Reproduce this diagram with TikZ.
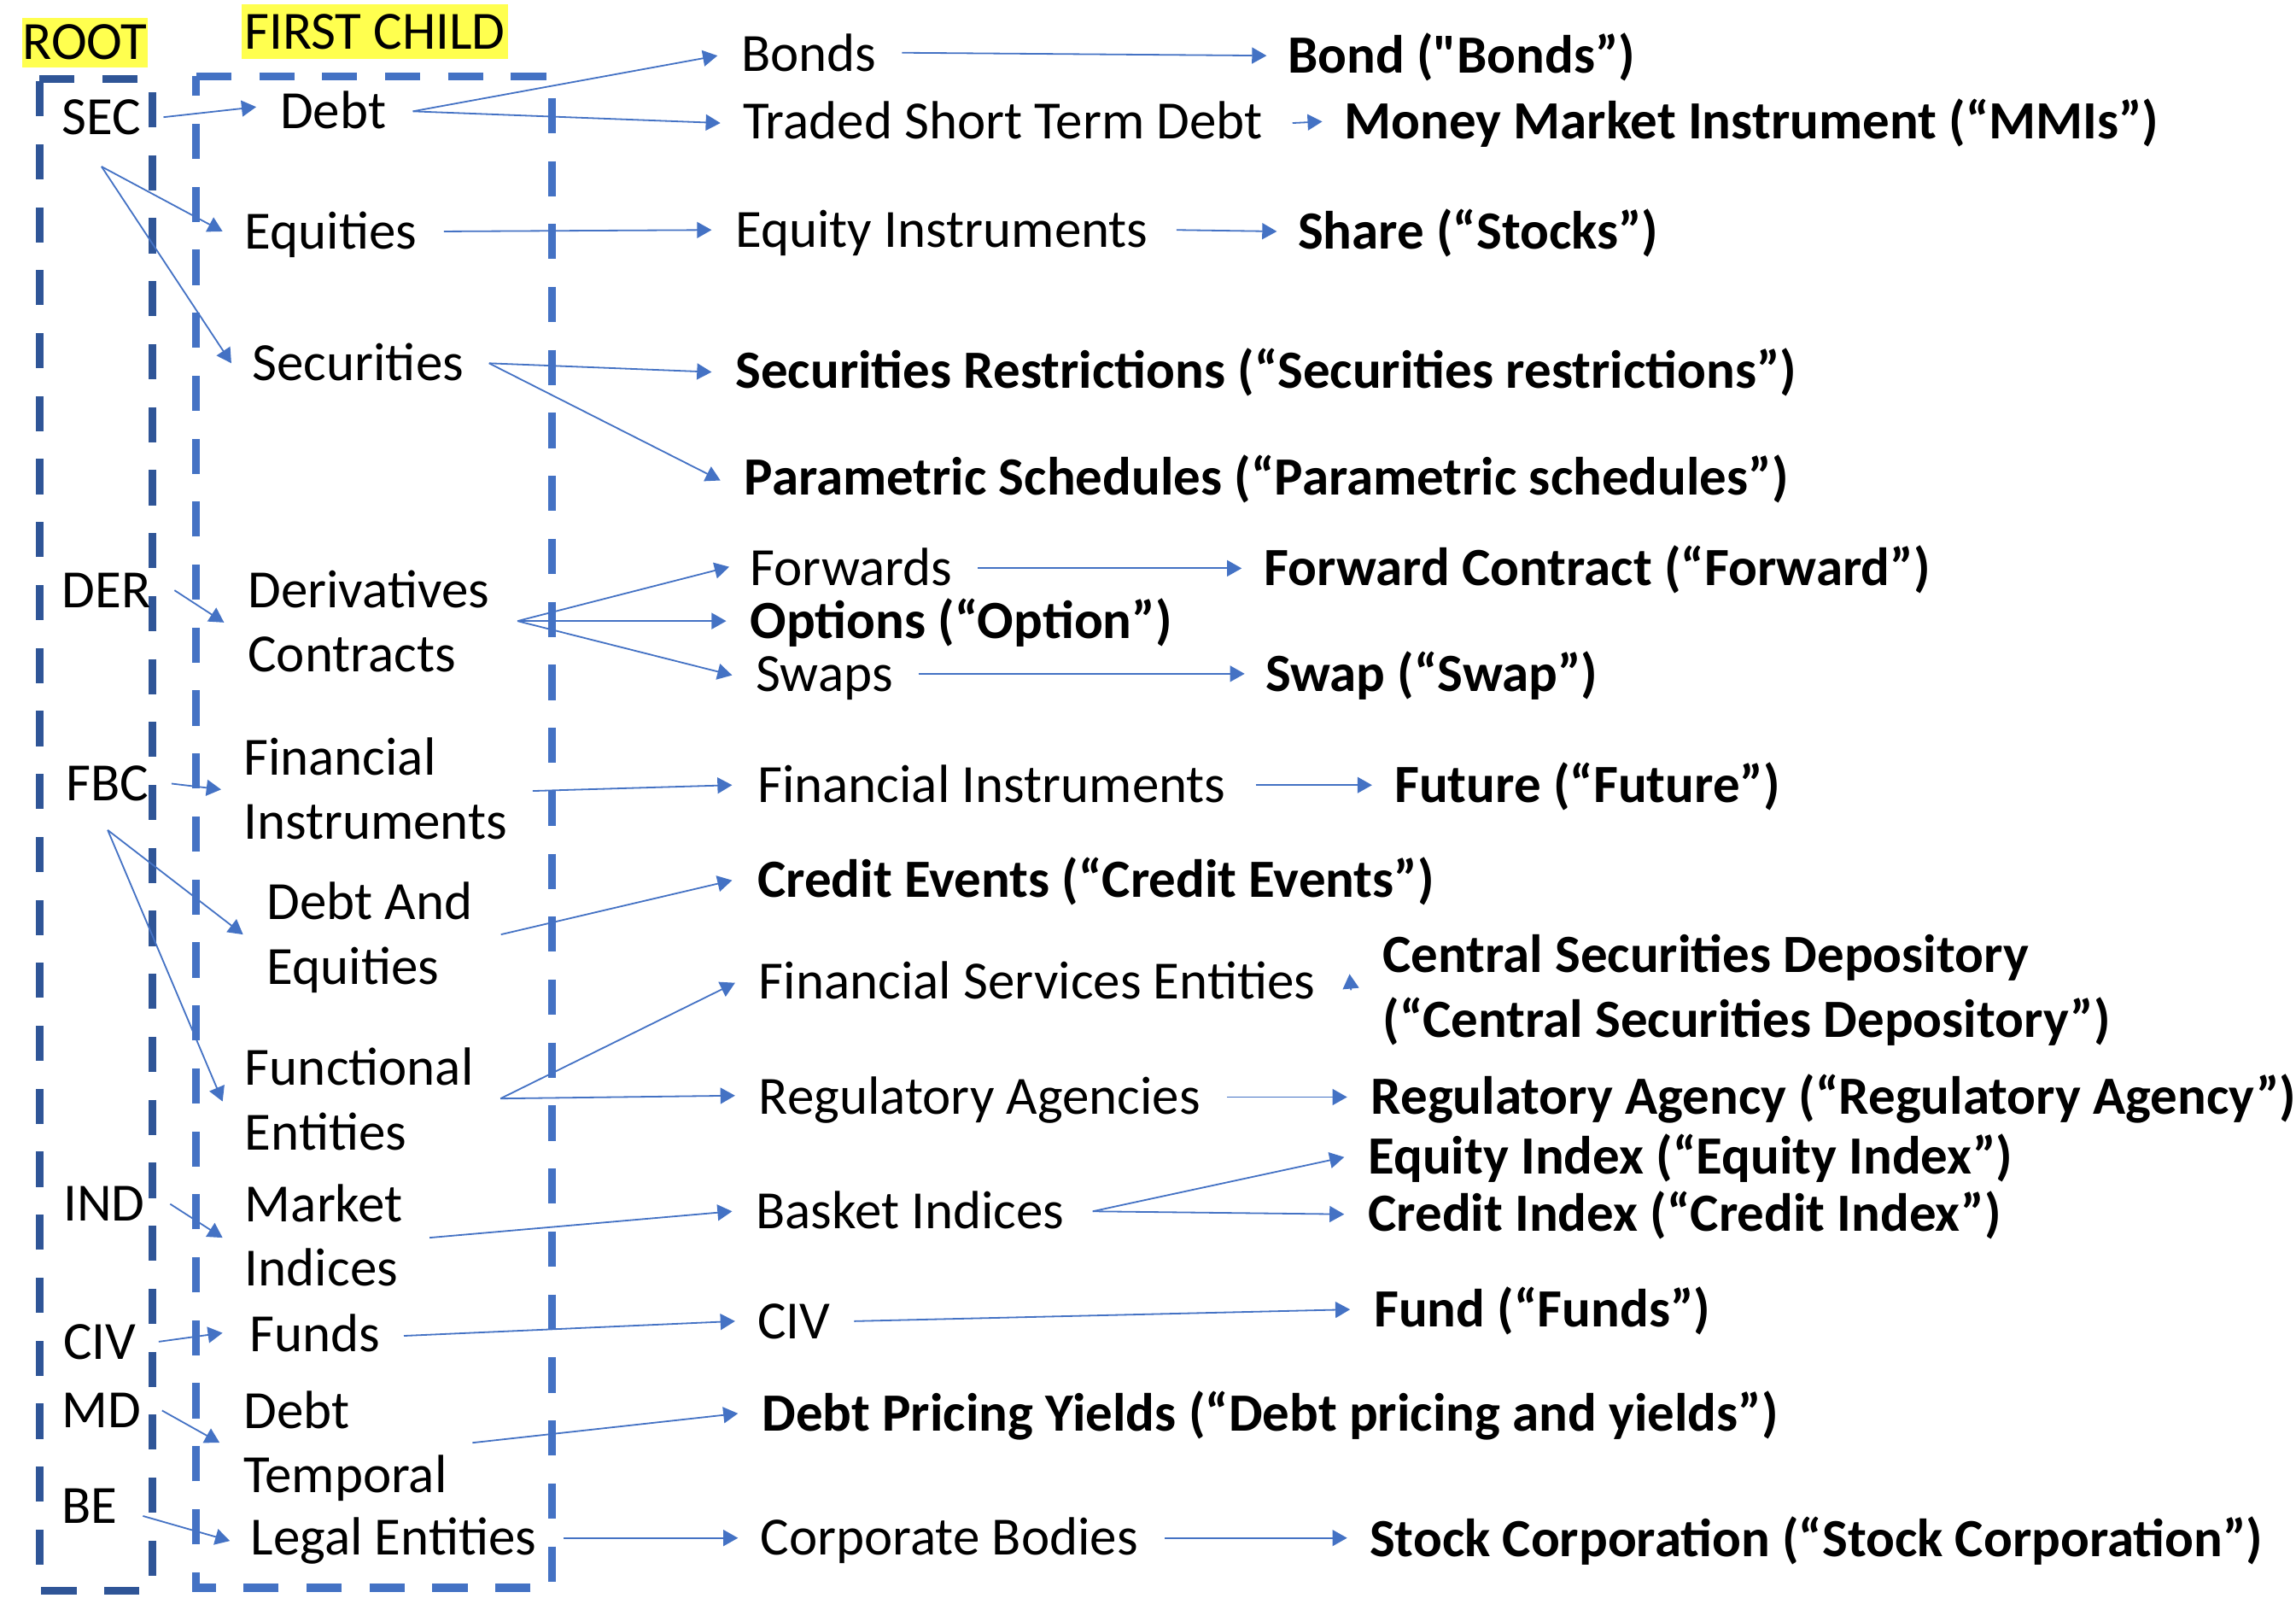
\documentclass[tikz,border=0pt]{standalone}
\usepackage{fontspec}
\setmainfont{Carlito}
\usetikzlibrary{arrows.meta,calc}
\definecolor{arrblue}{HTML}{4472C4}
\definecolor{rootblue}{HTML}{2F5597}
\definecolor{hlyellow}{HTML}{FFFF4F}
\newcommand\topstrut{\rule{0pt}{20pt}}
\newcommand\botstrut{\rule[-6.6pt]{0pt}{6.6pt}}
\newcommand\straightquote{{\addfontfeatures{Ligatures=TeXOff}"}}
\begin{document}
\begin{tikzpicture}[x=0.02cm,y=-0.02cm,
  every node/.style={font=\fontsize{20.9pt}{25pt}\selectfont},
  lbl/.style={anchor=west, inner sep=0pt, align=left,
    execute at begin node=\topstrut, execute at end node=\botstrut},
  blbl/.style={lbl, font=\fontsize{20.9pt}{25pt}\selectfont\bfseries},
  hdr/.style={fill=hlyellow, inner sep=0pt},
  arr/.style={arrblue, line width=0.6pt, -{Triangle[length=0.2cm,width=0.22cm]}},
  rootbox/.style={rootblue, line width=3pt, dash pattern=on 0.48cm off 0.38cm},
  childbox/.style={arrblue, line width=3pt, dash pattern=on 0.48cm off 0.38cm}
]
\useasboundingbox (0,0) rectangle (1568,1095);

% headers
\node[hdr, minimum width=1.72cm, minimum height=0.68cm] (roothdr) at (58,29) {ROOT};
\node[hdr, minimum width=3.64cm, minimum height=0.74cm] (childhdr) at (256,21.5) {FIRST CHILD};

% dashed boxes
\draw[rootbox] (27,54) -- (104,54) -- (104,1086) -- (27,1086) -- cycle;
\draw[childbox] (134,52) -- (377,52) -- (377,1084) -- (134,1084) -- cycle;

% root column
\node[lbl] (sec) at (42,80) {SEC};
\node[lbl] (der) at (42,403) {DER};
\node[lbl] (fbc) at (45,535) {FBC};
\node[lbl] (ind) at (43,822) {IND};
\node[lbl] (civ) at (43,916) {CIV};
\node[lbl] (md) at (42,963) {MD};
\node[lbl] (be) at (42,1028) {BE};

% first child column
\node[lbl] (debt) at (191,76) {Debt};
\node[lbl] (equities) at (167,158) {Equities};
\node[lbl] (securities) at (172,248) {Securities};
\node[lbl] (deriv) at (169,430) {Derivatives\\Contracts};
\node[lbl] (fin) at (166,544) {Financial\\Instruments};
\node[lbl] (debtand) at (182,643) {Debt And\\Equities};
\node[lbl] (func) at (167,756) {Functional\\Entities};
\node[lbl] (market) at (167,849) {Market\\Indices};
\node[lbl] (funds) at (170,911) {Funds};
\node[lbl] (dt) at (166,990) {Debt\\Temporal};
\node[lbl] (legal) at (171,1050) {Legal Entities};

% third column
\node[lbl] (bonds) at (506,37) {Bonds};
\node[lbl] (traded) at (507,83) {Traded Short Term Debt};
\node[lbl] (eqinst) at (502,157) {Equity Instruments};
\node[blbl] (secrestr) at (502,253) {Securities Restrictions (“Securities restrictions”)};
\node[blbl] (param) at (508,326) {Parametric Schedules (“Parametric schedules”)};
\node[lbl] (fwd) at (512,388) {Forwards};
\node[blbl] (options) at (512,424) {Options (“Option”)};
\node[lbl] (swaps) at (516,460) {Swaps};
\node[lbl] (fininst) at (517,536) {Financial Instruments};
\node[blbl] (credev) at (517,601) {Credit Events (“Credit Events”)};
\node[lbl] (fse) at (518,670) {Financial Services Entities};
\node[lbl] (reg) at (518,749) {Regulatory Agencies};
\node[lbl] (basket) at (516,827) {Basket Indices};
\node[lbl] (civ3) at (517,902) {CIV};
\node[blbl] (dpy) at (520,965) {Debt Pricing Yields (“Debt pricing and yields”)};
\node[lbl] (corp) at (519,1050) {Corporate Bodies};

% fourth column
\node[blbl] (bond) at (879,38) {Bond (\straightquote Bonds”)};
\node[blbl] (mmi) at (918,83) {Money Market Instrument (“MMIs”)};
\node[blbl] (share) at (886,158) {Share (“Stocks”)};
\node[blbl] (fwdc) at (863,388) {Forward Contract (“Forward”)};
\node[blbl] (swap) at (864,460) {Swap (“Swap”)};
\node[blbl] (future) at (952,536) {Future (“Future”)};
\node[blbl] (csd) at (944,679) {Central Securities Depository\\(“Central Securities Depository”)};
\node[blbl] (regag) at (936,749) {Regulatory Agency (“Regulatory Agency”)};
\node[blbl] (eqidx) at (934,790) {Equity Index (“Equity Index”)};
\node[blbl] (credidx) at (934,829) {Credit Index (“Credit Index”)};
\node[blbl] (fund) at (938,894) {Fund (“Funds”)};
\node[blbl] (stock) at (935,1051) {Stock Corporation (“Stock Corporation”)};

% root -> first child
\draw[arr] ($(sec.east)+(15,0)$) -- ($(debt.west)+(-16,-3)$);
\draw[arr] ($(sec.south)+(0,10)$) -- ($(equities.west)+(-15,0)$);
\draw[arr] ($(sec.south)+(0,10)$) -- ($(securities.west)+(-14,0)$);
\draw[arr] ($(der.east)+(16,0)$) -- ($(deriv.west)+(-16,-5)$);
\draw[arr] ($(fbc.east)+(15,0)$) -- ($(fin.west)+(-15,-5)$);
\draw[arr] ($(fbc.south)+(0,8)$) -- ($(debtand.west)+(-16,-5)$);
\draw[arr] ($(fbc.south)+(0,8)$) -- ($(func.west)+(-15,-4)$);
\draw[arr] ($(ind.east)+(17,0)$) -- ($(market.west)+(-15,-4)$);
\draw[arr] ($(civ.east)+(15,0)$) -- ($(funds.west)+(-18,-1)$);
\draw[arr] ($(md.east)+(14,0)$) -- ($(dt.west)+(-16,-5)$);
\draw[arr] ($(be.east)+(17,7)$) -- ($(legal.west)+(-14,2)$);

% first child -> third column
\draw[arr] ($(debt.east)+(18,0)$) -- ($(bonds.west)+(-16,1)$);
\draw[arr] ($(debt.east)+(18,0)$) -- ($(traded.west)+(-15,1)$);
\draw[arr] ($(equities.east)+(18,0)$) -- ($(eqinst.west)+(-16,0)$);
\draw[arr] ($(securities.east)+(17,0)$) -- ($(secrestr.west)+(-16,1)$);
\draw[arr] ($(securities.east)+(17,0)$) -- ($(param.west)+(-16,2)$);
\draw[arr] ($(deriv.east)+(19,-6)$) -- ($(fwd.west)+(-14,-1)$);
\draw[arr] ($(deriv.east)+(19,-6)$) -- ($(options.west)+(-16,0)$);
\draw[arr] ($(deriv.east)+(19,-6)$) -- ($(swaps.west)+(-16,1)$);
\draw[arr] ($(fin.east)+(17,-4)$) -- ($(fininst.west)+(-17,0)$);
\draw[arr] ($(debtand.east)+(19,-5)$) -- ($(credev.west)+(-17,0)$);
\draw[arr] ($(func.east)+(18,-6)$) -- ($(fse.west)+(-16,1)$);
\draw[arr] ($(func.east)+(18,-6)$) -- ($(reg.west)+(-16,-1)$);
\draw[arr] ($(market.east)+(18,-4)$) -- ($(basket.west)+(-16,0)$);
\draw[arr] ($(funds.east)+(16,1)$) -- ($(civ3.west)+(-15,0)$);
\draw[arr] ($(dt.east)+(17,-5)$) -- ($(dpy.west)+(-16,0)$);
\draw[arr] ($(legal.east)+(18,0)$) -- ($(corp.west)+(-15,0)$);

% third -> fourth column
\draw[arr] ($(bonds.east)+(17,-1)$) -- ($(bond.west)+(-14,0)$);
\draw[arr] ($(traded.east)+(20,1)$) -- ($(mmi.west)+(-15,0)$);
\draw[arr] ($(eqinst.east)+(19,0)$) -- ($(share.west)+(-14,0)$);
\draw[arr] ($(fwd.east)+(17,0)$) -- ($(fwdc.west)+(-15,0)$);
\draw[arr] ($(swaps.east)+(17,0)$) -- ($(swap.west)+(-14,0)$);
\draw[arr] ($(fininst.east)+(20,0)$) -- ($(future.west)+(-15,0)$);
\coordinate (csdtip) at ($(fse.east)+(23,-5)$);
\draw[arr] ($(fse.east)+(24,6)$) -- (csdtip);
\draw[arr] ($(reg.east)+(18,0)$) -- ($(regag.west)+(-16,0)$);
\draw[arr] ($(basket.east)+(19,0)$) -- ($(eqidx.west)+(-16,0)$);
\draw[arr] ($(basket.east)+(19,0)$) -- ($(credidx.west)+(-16,0)$);
\draw[arr] ($(civ3.east)+(16,0)$) -- ($(fund.west)+(-16,0)$);
\draw[arr] ($(corp.east)+(18,0)$) -- ($(stock.west)+(-15,-1)$);
\end{tikzpicture}
\end{document}
